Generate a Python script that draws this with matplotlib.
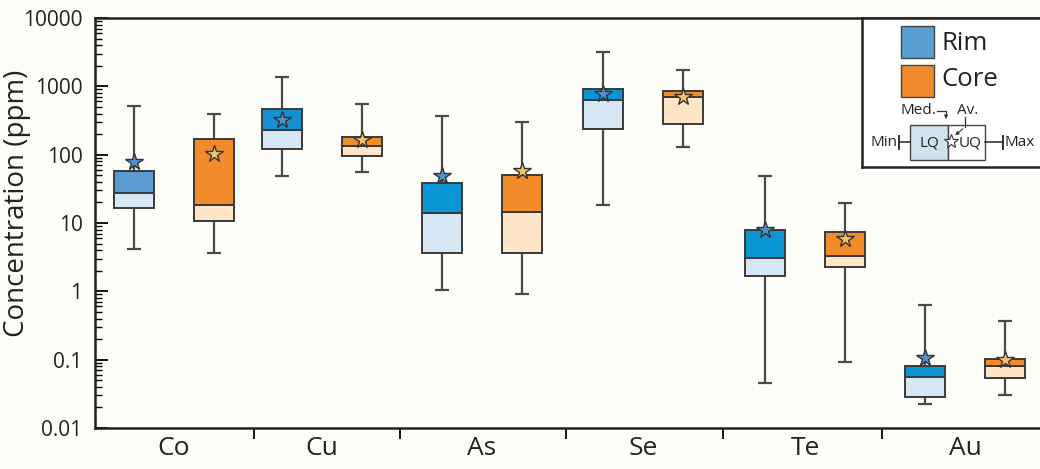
import matplotlib
matplotlib.use("Agg")
import matplotlib.pyplot as plt
from matplotlib.patches import Rectangle
from matplotlib.ticker import FixedLocator, LogLocator, NullFormatter

plt.rcParams['font.family'] = ['Open Sans', 'DejaVu Sans']

# ---------------- data ----------------
elements = ["Co", "Cu", "As", "Se", "Te", "Au"]

rim_min    = [4.2, 49, 1.04, 18.2, 0.045, 0.0226]
rim_q1     = [16.4, 120, 3.67, 240, 1.7, 0.028]
rim_median = [27.6, 232, 14.1, 621, 3.1, 0.0556]
rim_q3     = [58, 470, 38, 910, 7.8, 0.082]
rim_max    = [507, 1390, 362, 3190, 48, 0.63]
rim_mean   = [78, 324, 49, 778, 7.8, 0.106]

core_min    = [3.6, 56, 0.91, 130, 0.092, 0.030]
core_q1     = [10.8, 96, 3.67, 281, 2.26, 0.054]
core_median = [18.2, 132, 14.7, 696, 3.3, 0.080]
core_q3     = [171, 181, 50, 851, 7.3, 0.104]
core_max    = [397, 555, 303, 1741, 19.5, 0.37]
core_mean   = [102, 162, 58, 703, 5.9, 0.10]

ytick_vals = [0.01, 0.1, 1, 10, 100, 1000, 10000]
ytick_labels = ["0.01", "0.1", "1", "10", "100", "1000", "10000"]

# ---------------- layout / style ----------------
W, H = 1040, 469
group_x = [174, 322, 482, 643, 805, 965]
boundaries = [254, 400, 566, 723, 882]
offset = 40
box_w = 40
cap_w = 14

rim_dark = ["#5a9bd3", "#1690d0", "#0a95d5", "#0a95d5", "#0a95d5", "#0a95d5"]
rim_light = "#d6e8f6"
core_dark = "#f28c2a"
core_light = "#fee5c8"
rim_star = "#4f93cc"
core_star = "#f6c46c"
edge = "#3a3a3a"
bg = "#fdfdfa"

fig = plt.figure(figsize=(W / 100, H / 100), dpi=100, facecolor=bg)
ax = fig.add_axes([95 / W, 1 - 428 / H, (1043 - 95) / W, (428 - 18) / H])
ax.set_facecolor(bg)
ax.set_yscale("log")
ax.set_ylim(0.01, 10000)
ax.set_xlim(95, 1043)


def draw_box(x, mn, q1, md, q3, mx, mean, dark, light, star):
    ax.vlines(x, q3, mx, color="#4a4a4a", lw=1.6, zorder=2)
    ax.vlines(x, mn, q1, color="#4a4a4a", lw=1.6, zorder=2)
    ax.hlines([mn, mx], x - cap_w / 2, x + cap_w / 2, color="#4a4a4a", lw=1.6, zorder=2)
    ax.bar(x, md - q1, bottom=q1, width=box_w, color=light, edgecolor=edge, lw=1.4, zorder=3)
    ax.bar(x, q3 - md, bottom=md, width=box_w, color=dark, edgecolor=edge, lw=1.4, zorder=3)
    ax.plot(x, mean, marker="*", ms=13, mfc=star, mec="#333333", mew=1.0, zorder=5)


for i in range(len(elements)):
    draw_box(group_x[i] - offset, rim_min[i], rim_q1[i], rim_median[i], rim_q3[i],
             rim_max[i], rim_mean[i], rim_dark[i], rim_light, rim_star)
    draw_box(group_x[i] + offset, core_min[i], core_q1[i], core_median[i], core_q3[i],
             core_max[i], core_mean[i], core_dark, core_light, core_star)

# y axis
ax.yaxis.set_major_locator(FixedLocator(ytick_vals))
ax.set_yticklabels(ytick_labels, fontsize=15, color="#222222")
ax.yaxis.set_minor_locator(LogLocator(base=10, subs=range(2, 10), numticks=20))
ax.yaxis.set_minor_formatter(NullFormatter())
ax.tick_params(axis="y", which="major", direction="in", length=9, width=1.3, pad=9)
ax.tick_params(axis="y", which="minor", direction="in", length=5, width=1.0)
fig.text(17 / W, 1 - 203 / H, "Concentration (ppm)", rotation=90, fontsize=20,
         ha="center", va="center", color="#222222")

# x axis
ax.set_xticks(boundaries)
ax.set_xticklabels([""] * len(boundaries))
ax.set_xticks(group_x, minor=True)
ax.set_xticklabels(elements, minor=True, fontsize=19, color="#222222")
ax.tick_params(axis="x", which="major", direction="out", length=8, width=1.3)
ax.tick_params(axis="x", which="minor", length=0, pad=6)

for s in ax.spines.values():
    s.set_linewidth(1.8)
    s.set_color("#222222")

# ---------------- legend panel ----------------
lx0, lx1, ly0, ly1 = 862, 1046, 18, 167
lax = fig.add_axes([lx0 / W, 1 - ly1 / H, (lx1 - lx0) / W, (ly1 - ly0) / H])
lax.set_xlim(lx0, lx1)
lax.set_ylim(ly1, ly0)
lax.set_facecolor("white")
lax.set_xticks([])
lax.set_yticks([])
for s in lax.spines.values():
    s.set_linewidth(1.8)
    s.set_color("#222222")

lax.add_patch(Rectangle((901, 26), 33, 32, facecolor="#5a9fd4", edgecolor="#444444", lw=1.0))
lax.add_patch(Rectangle((901, 65), 33, 32, facecolor="#f08a2c", edgecolor="#444444", lw=1.0))
lax.text(941, 43, "Rim", fontsize=18.5, va="center", ha="left", color="#222222")
lax.text(941, 80, "Core", fontsize=18.5, va="center", ha="left", color="#222222")

# mini box diagram
lax.add_patch(Rectangle((910, 125), 37.5, 35, facecolor="#cfe3ec", edgecolor="#444444", lw=1.0))
lax.add_patch(Rectangle((947.5, 125), 37, 35, facecolor="white", edgecolor="#444444", lw=1.0))
lax.plot([899, 910], [142.5, 142.5], color="#333333", lw=1.2)
lax.plot([899, 899], [136, 149], color="#333333", lw=1.4)
lax.plot([984.5, 1003], [142.5, 142.5], color="#333333", lw=1.2)
lax.plot([1003, 1003], [136, 149], color="#333333", lw=1.4)
lax.text(897, 143, "Min", fontsize=11, ha="right", va="center", color="#222222")
lax.text(1005, 143, "Max", fontsize=11, ha="left", va="center", color="#222222")
lax.text(929, 143, "LQ", fontsize=11, ha="center", va="center", color="#222222")
lax.text(970, 143, "UQ", fontsize=11, ha="center", va="center", color="#222222")
lax.plot(951, 141, marker="*", ms=10, mfc="white", mec="#333333", mew=0.8)
lax.text(900, 111, "Med.", fontsize=11, ha="left", va="center", color="#222222")
lax.text(957, 111, "Av.", fontsize=11, ha="left", va="center", color="#222222")
lax.plot([937, 946, 946], [111, 111, 115], color="#333333", lw=0.9)
lax.annotate("", xy=(946, 119), xytext=(946, 114),
             arrowprops=dict(arrowstyle="-|>", color="#333333", lw=0.8, mutation_scale=5))
lax.plot([965, 965], [117, 127], color="#333333", lw=0.9)
lax.annotate("", xy=(953, 137), xytext=(965, 127),
             arrowprops=dict(arrowstyle="-|>", color="#333333", lw=0.8, mutation_scale=5))

fig.savefig("out.png", dpi=100, facecolor=bg)
